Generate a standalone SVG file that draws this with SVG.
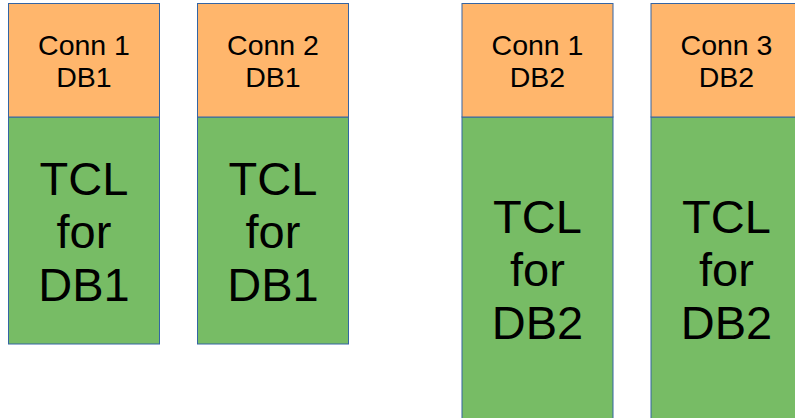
<svg xmlns="http://www.w3.org/2000/svg" width="795" height="418" viewBox="0 0 795 418">
<style>
.hd{fill:#FFB66C;stroke:#3465A4;stroke-width:1}
.bd{fill:#77BC65;stroke:#3465A4;stroke-width:1}
.s{font-family:"Liberation Sans",Arial,sans-serif;font-size:28.5px;fill:#000;text-anchor:middle}
.b{font-family:"Liberation Sans",Arial,sans-serif;font-size:47px;fill:#000;text-anchor:middle}
</style>
<rect width="795" height="418" fill="#fff"/>
<g id="n1">
<rect class="bd" x="8.5" y="117" width="151" height="227"/>
<rect class="hd" x="8.5" y="3.5" width="151" height="113.5"/>
<text class="s" x="84" y="54.5">Conn 1</text><text class="s" x="84" y="87">DB1</text>
<text class="b" x="84" y="195">TCL</text><text class="b" x="84" y="248">for</text><text class="b" x="84" y="301">DB1</text>
</g>
<g id="n2">
<rect class="bd" x="197.5" y="117" width="151" height="227"/>
<rect class="hd" x="197.5" y="3.5" width="151" height="113.5"/>
<text class="s" x="273" y="54.5">Conn 2</text><text class="s" x="273" y="87">DB1</text>
<text class="b" x="273" y="195">TCL</text><text class="b" x="273" y="248">for</text><text class="b" x="273" y="301">DB1</text>
</g>
<g id="n3">
<rect class="bd" x="462" y="117" width="151" height="310"/>
<rect class="hd" x="462" y="3.5" width="151" height="113.5"/>
<text class="s" x="537.5" y="54.5">Conn 1</text><text class="s" x="537.5" y="87">DB2</text>
<text class="b" x="537.5" y="232.5">TCL</text><text class="b" x="537.5" y="285.5">for</text><text class="b" x="537.5" y="338.5">DB2</text>
</g>
<g id="n4">
<rect class="bd" x="651" y="117" width="151" height="310"/>
<rect class="hd" x="651" y="3.5" width="151" height="113.5"/>
<text class="s" x="726.5" y="54.5">Conn 3</text><text class="s" x="726.5" y="87">DB2</text>
<text class="b" x="726.5" y="232.5">TCL</text><text class="b" x="726.5" y="285.5">for</text><text class="b" x="726.5" y="338.5">DB2</text>
</g>
<g id="connectors"/>
</svg>
